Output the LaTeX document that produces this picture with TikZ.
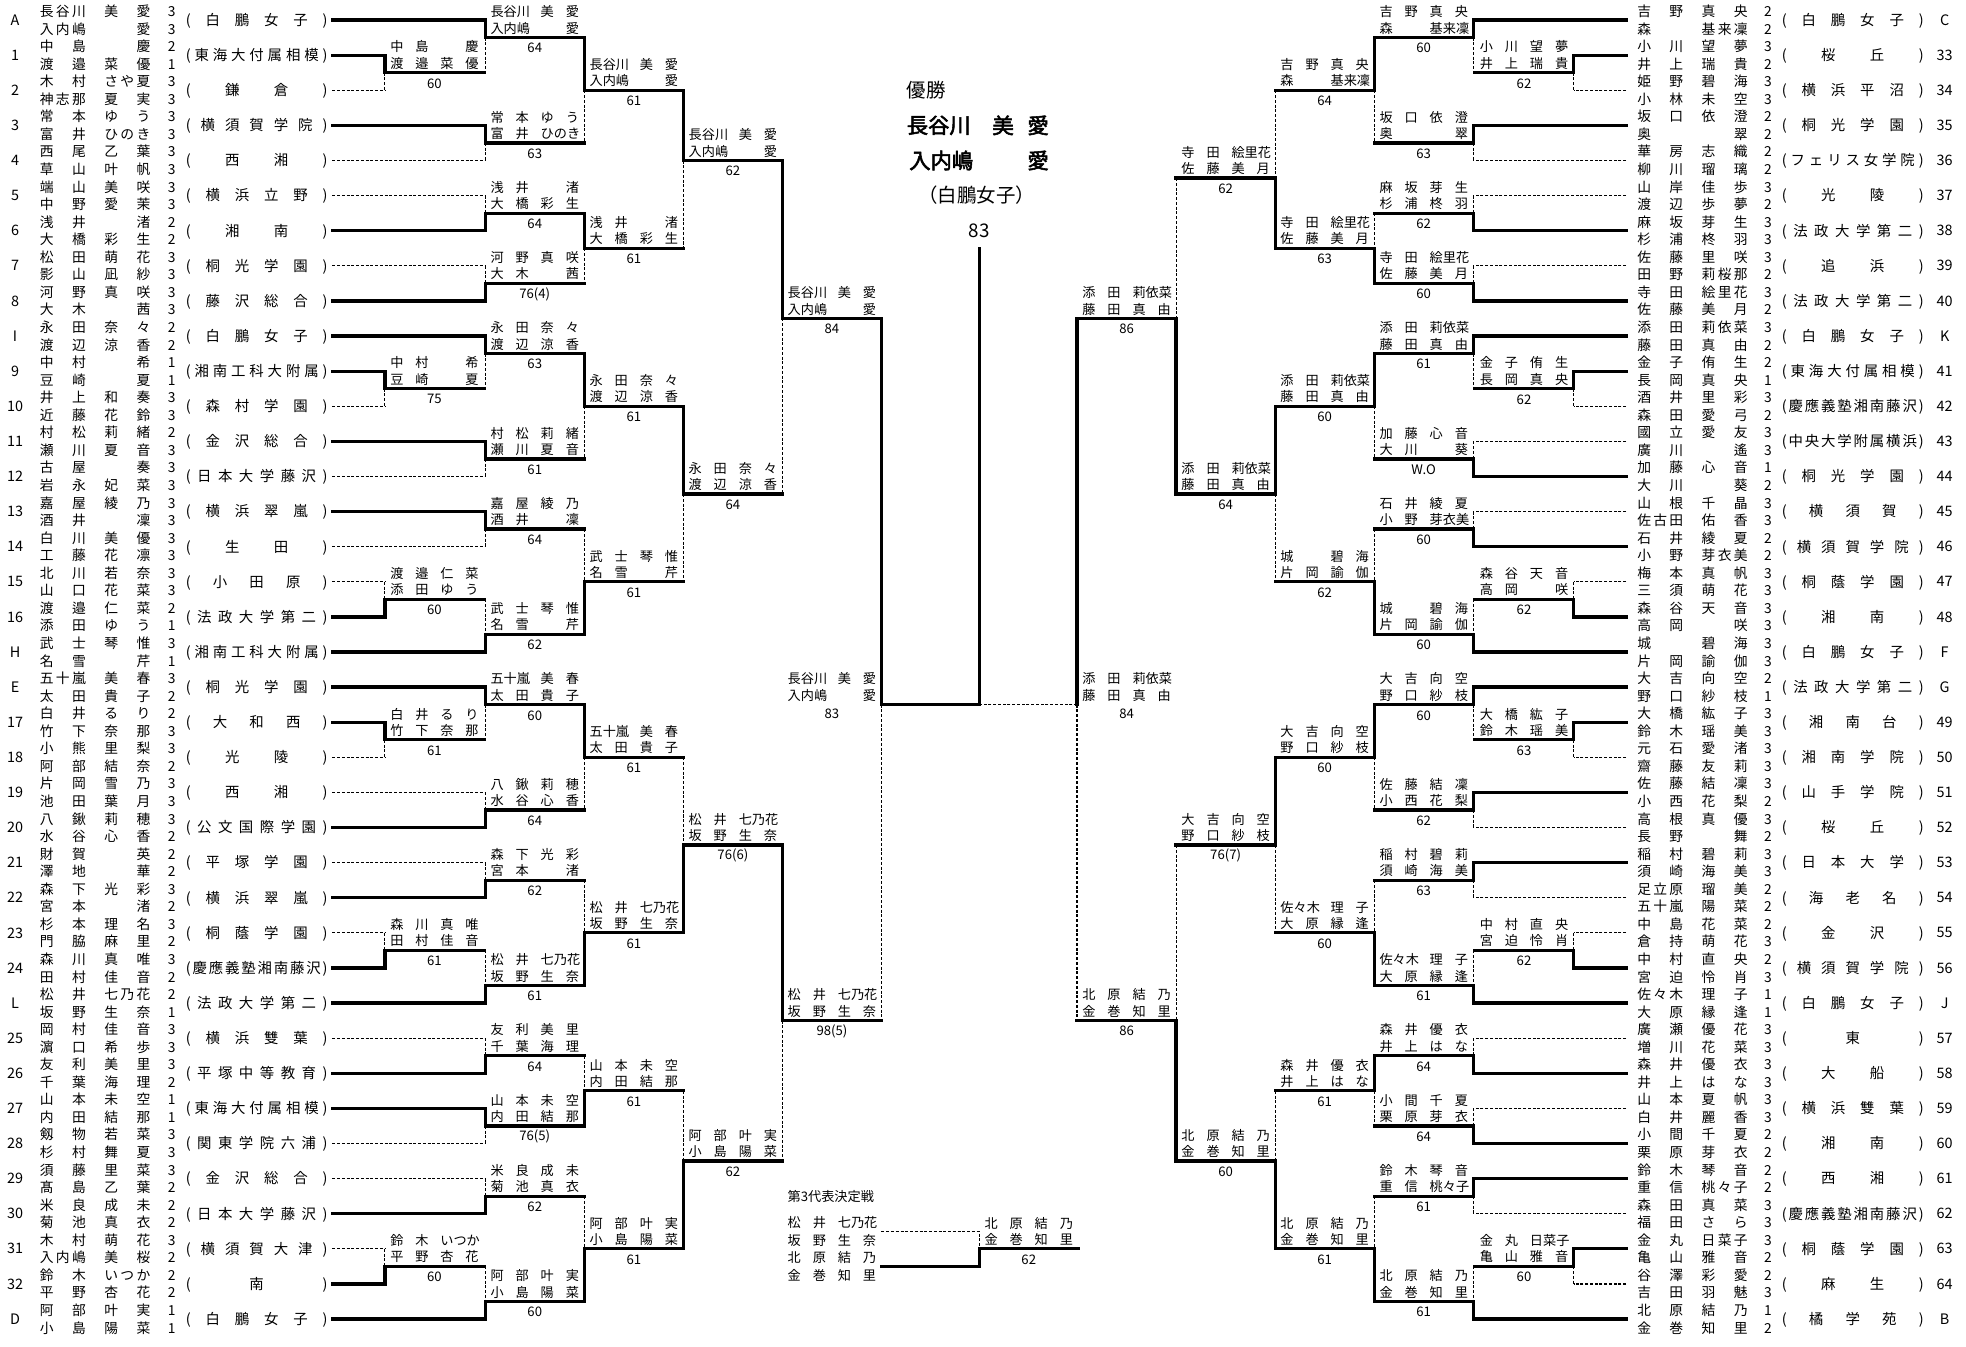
\documentclass[tikz,border=0pt]{standalone}
\usepackage{fontspec}
\setmainfont{Noto Sans CJK JP}[AutoFakeBold=2.5]
\newcount\chcountx
\def\countloopx#1{\ifx\relax#1\else\advance\chcountx by 1 \expandafter\countloopx\fi}
\def\spreadfirstx#1{#1\spreadrestx}
\def\spreadrestx#1{\ifx\relax#1\else\hfill#1\expandafter\spreadrestx\fi}
\newcommand\nmx[3]{\hbox{%
  \chcountx=0 \countloopx#2\relax
  \hbox to \dimexpr#1+1em\relax{\ifnum\chcountx=1 #2\hfill\else\spreadfirstx#2\relax\fi}%
  \hskip\dimexpr#1-1em\relax
  \chcountx=0 \countloopx#3\relax
  \hbox to \dimexpr#1+1em\relax{\ifnum\chcountx=1 \hfill#3\else\spreadfirstx#3\relax\fi}}}
\newcommand\nm[2]{\nmx{20pt}{#1}{#2}}
\newcommand\nmc[2]{\nmx{25.7pt}{#1}{#2}}
\newcommand\spreadtext[2]{\hbox to #1{\spreadfirstx#2\relax}}
\newcommand\Y[1]{(16+14*(#1))}
\tikzset{
 thk/.style={line width=2.6pt, line cap=rect},
 dsh/.style={line width=0.9pt, dash pattern=on 2.4pt off 1.4pt},
 lbl/.style={inner sep=0pt, font=\fontsize{10.5}{12}\selectfont, text height=9.2pt, text depth=1.3pt},
 scr/.style={inner sep=0pt, font=\fontsize{10.5}{12}\selectfont},
 cname/.style={inner sep=0pt, font=\fontsize{11}{13}\selectfont, text height=9.7pt, text depth=1.3pt},
 sch/.style={inner sep=0pt, font=\fontsize{11.5}{13}\selectfont, text height=10pt, text depth=1.5pt},
 seedlbl/.style={inner sep=0pt, font=\fontsize{11.5}{13}\selectfont},
}
% match: dir, V, nTop, nBot, nOut, winner(t/b), score, name1, name2
\newcommand\mt[9]{%
 \if#6t
   \draw[dsh] (#2,{\Y{#5}}) -- (#2,{\Y{#4}});
   \draw[thk] (#2,{\Y{#3}}) -- (#2,{\Y{#5}});
 \else
   \draw[dsh] (#2,{\Y{#3}}) -- (#2,{\Y{#5}});
   \draw[thk] (#2,{\Y{#5}}) -- (#2,{\Y{#4}});
 \fi
 \draw[thk] (#2,{\Y{#5}}) -- ({#2+(#1)*79},{\Y{#5}});
 \node[lbl] at ({#2+(#1)*39.5},{\Y{#5}-20.5}) {#8};
 \node[lbl] at ({#2+(#1)*39.5},{\Y{#5}-7.5}) {#9};
 \node[scr] at ({#2+(#1)*39.5},{\Y{#5}+8.5}) {#7};
}
\newcommand\entL[9]{%
 \node[seedlbl] (sL#1) at (12,{\Y{2*#1}}) {#2};
 \node[cname,anchor=west] (nL#1a) at (31.6,{\Y{2*#1}-7}) {\nmc{#3}{#4}};
 \node[cname] (gL#1a) at (137,{\Y{2*#1}-7}) {#5};
 \node[cname,anchor=west] (nL#1b) at (31.6,{\Y{2*#1}+7}) {\nmc{#6}{#7}};
 \node[cname] (gL#1b) at (137,{\Y{2*#1}+7}) {#8};
 \node[sch,anchor=west] (cL#1) at (148,{\Y{2*#1}}) {\spreadtext{113pt}{(#9)}};
}
\newcommand\entR[9]{%
 \node[seedlbl] (sR#1) at (1551,{\Y{2*#1}}) {#2};
 \node[cname,anchor=west] (nR#1a) at (1305.6,{\Y{2*#1}-7}) {\nmc{#3}{#4}};
 \node[cname] (gR#1a) at (1410,{\Y{2*#1}-7}) {#5};
 \node[cname,anchor=west] (nR#1b) at (1305.6,{\Y{2*#1}+7}) {\nmc{#6}{#7}};
 \node[cname] (gR#1b) at (1410,{\Y{2*#1}+7}) {#8};
 \node[sch,anchor=west] (cR#1) at (1421,{\Y{2*#1}}) {\spreadtext{113pt}{(#9)}};
}
\newcommand\lnL[3]{\draw[#3] (265,{\Y{2*#1}}) -- (#2,{\Y{2*#1}});}
\newcommand\lnR[3]{\draw[#3] (1297,{\Y{2*#1}}) -- (#2,{\Y{2*#1}});}
\begin{document}
\begin{tikzpicture}[x=1pt,y=-1pt]
\fill[white] (0,0) rectangle (1568,1073.6);
\useasboundingbox (0,0) rectangle (1568,1073.6);
% ---------- entry lines ----------
\lnL{0}{387}{thk}\lnL{1}{307}{thk}\lnL{2}{307}{dsh}\lnL{3}{387}{thk}\lnL{4}{387}{dsh}
\lnL{5}{387}{dsh}\lnL{6}{387}{thk}\lnL{7}{387}{dsh}\lnL{8}{387}{thk}\lnL{9}{387}{thk}
\lnL{10}{307}{thk}\lnL{11}{307}{dsh}\lnL{12}{387}{thk}\lnL{13}{387}{dsh}\lnL{14}{387}{thk}
\lnL{15}{387}{dsh}\lnL{16}{307}{dsh}\lnL{17}{307}{thk}\lnL{18}{387}{thk}\lnL{19}{387}{thk}
\lnL{20}{307}{thk}\lnL{21}{307}{dsh}\lnL{22}{387}{dsh}\lnL{23}{387}{thk}\lnL{24}{387}{dsh}
\lnL{25}{387}{thk}\lnL{26}{307}{dsh}\lnL{27}{307}{thk}\lnL{28}{387}{thk}\lnL{29}{387}{dsh}
\lnL{30}{387}{thk}\lnL{31}{387}{thk}\lnL{32}{387}{dsh}\lnL{33}{387}{dsh}\lnL{34}{387}{thk}
\lnL{35}{307}{dsh}\lnL{36}{307}{thk}\lnL{37}{387}{thk}
\lnR{0}{1175}{thk}\lnR{1}{1255}{thk}\lnR{2}{1255}{dsh}\lnR{3}{1175}{thk}\lnR{4}{1175}{dsh}
\lnR{5}{1175}{dsh}\lnR{6}{1175}{thk}\lnR{7}{1175}{dsh}\lnR{8}{1175}{thk}\lnR{9}{1175}{thk}
\lnR{10}{1255}{thk}\lnR{11}{1255}{dsh}\lnR{12}{1175}{dsh}\lnR{13}{1175}{thk}\lnR{14}{1175}{dsh}
\lnR{15}{1175}{thk}\lnR{16}{1255}{dsh}\lnR{17}{1255}{thk}\lnR{18}{1175}{thk}\lnR{19}{1175}{thk}
\lnR{20}{1255}{thk}\lnR{21}{1255}{dsh}\lnR{22}{1175}{thk}\lnR{23}{1175}{dsh}\lnR{24}{1175}{thk}
\lnR{25}{1175}{dsh}\lnR{26}{1255}{dsh}\lnR{27}{1255}{thk}\lnR{28}{1175}{thk}\lnR{29}{1175}{dsh}
\lnR{30}{1175}{thk}\lnR{31}{1175}{dsh}\lnR{32}{1175}{thk}\lnR{33}{1175}{thk}\lnR{34}{1175}{dsh}
\lnR{35}{1255}{thk}\lnR{36}{1255}{dsh}\lnR{37}{1175}{thk}
% ---------- left entries ----------
\entL{0}{A}{長谷川}{美愛}{3}{入内嶋}{愛}{3}{白鵬女子}
\entL{1}{1}{中島}{慶}{2}{渡邉}{菜優}{1}{東海大付属相模}
\entL{2}{2}{木村}{さや夏}{3}{神志那}{夏実}{3}{鎌倉}
\entL{3}{3}{常本}{ゆう}{3}{富井}{ひのき}{3}{横須賀学院}
\entL{4}{4}{西尾}{乙葉}{3}{草山}{叶帆}{3}{西湘}
\entL{5}{5}{端山}{美咲}{3}{中野}{愛茉}{3}{横浜立野}
\entL{6}{6}{浅井}{渚}{2}{大橋}{彩生}{2}{湘南}
\entL{7}{7}{松田}{萌花}{3}{影山}{凪紗}{3}{桐光学園}
\entL{8}{8}{河野}{真咲}{3}{大木}{茜}{3}{藤沢総合}
\entL{9}{I}{永田}{奈々}{2}{渡辺}{涼香}{2}{白鵬女子}
\entL{10}{9}{中村}{希}{1}{豆崎}{夏}{1}{湘南工科大附属}
\entL{11}{10}{井上}{和奏}{3}{近藤}{花鈴}{3}{森村学園}
\entL{12}{11}{村松}{莉緒}{2}{瀬川}{夏音}{3}{金沢総合}
\entL{13}{12}{古屋}{奏}{3}{岩永}{妃菜}{3}{日本大学藤沢}
\entL{14}{13}{嘉屋}{綾乃}{3}{酒井}{凜}{3}{横浜翠嵐}
\entL{15}{14}{白川}{美優}{3}{工藤}{花凛}{3}{生田}
\entL{16}{15}{北川}{若奈}{3}{山口}{花菜}{3}{小田原}
\entL{17}{16}{渡邉}{仁菜}{2}{添田}{ゆう}{1}{法政大学第二}
\entL{18}{H}{武士}{琴惟}{3}{名雪}{芹}{1}{湘南工科大附属}
\entL{19}{E}{五十嵐}{美春}{3}{太田}{貴子}{2}{桐光学園}
\entL{20}{17}{白井}{るり}{2}{竹下}{奈那}{3}{大和西}
\entL{21}{18}{小熊}{里梨}{3}{阿部}{結奈}{2}{光陵}
\entL{22}{19}{片岡}{雪乃}{3}{池田}{葉月}{3}{西湘}
\entL{23}{20}{八鍬}{莉穂}{3}{水谷}{心香}{2}{公文国際学園}
\entL{24}{21}{財賀}{英}{2}{澤地}{華}{2}{平塚学園}
\entL{25}{22}{森下}{光彩}{3}{宮本}{渚}{2}{横浜翠嵐}
\entL{26}{23}{杉本}{理名}{3}{門脇}{麻里}{2}{桐蔭学園}
\entL{27}{24}{森川}{真唯}{3}{田村}{佳音}{2}{慶應義塾湘南藤沢}
\entL{28}{L}{松井}{七乃花}{2}{坂野}{生奈}{1}{法政大学第二}
\entL{29}{25}{岡村}{佳音}{3}{濵口}{希歩}{3}{横浜雙葉}
\entL{30}{26}{友利}{美里}{3}{千葉}{海理}{2}{平塚中等教育}
\entL{31}{27}{山本}{未空}{1}{内田}{結那}{1}{東海大付属相模}
\entL{32}{28}{剱物}{若菜}{3}{杉村}{舞夏}{3}{関東学院六浦}
\entL{33}{29}{須藤}{里菜}{3}{髙島}{乙葉}{2}{金沢総合}
\entL{34}{30}{米良}{成未}{2}{菊池}{真衣}{2}{日本大学藤沢}
\entL{35}{31}{木村}{萌花}{3}{入内嶋}{美桜}{2}{横須賀大津}
\entL{36}{32}{鈴木}{いつか}{2}{平野}{杏花}{2}{南}
\entL{37}{D}{阿部}{叶実}{1}{小島}{陽菜}{1}{白鵬女子}
% ---------- right entries ----------
\entR{0}{C}{吉野}{真央}{2}{森}{基来凜}{2}{白鵬女子}
\entR{1}{33}{小川}{望夢}{3}{井上}{瑞貴}{2}{桜丘}
\entR{2}{34}{姫野}{碧海}{3}{小林}{未空}{3}{横浜平沼}
\entR{3}{35}{坂口}{依澄}{2}{奥}{翠}{2}{桐光学園}
\entR{4}{36}{華房}{志織}{2}{柳川}{瑠璃}{2}{フェリス女学院}
\entR{5}{37}{山岸}{佳歩}{3}{渡辺}{歩夢}{2}{光陵}
\entR{6}{38}{麻坂}{芽生}{3}{杉浦}{柊羽}{3}{法政大学第二}
\entR{7}{39}{佐藤}{里咲}{3}{田野}{莉桜那}{2}{追浜}
\entR{8}{40}{寺田}{絵里花}{3}{佐藤}{美月}{2}{法政大学第二}
\entR{9}{K}{添田}{莉依菜}{3}{藤田}{真由}{2}{白鵬女子}
\entR{10}{41}{金子}{侑生}{2}{長岡}{真央}{1}{東海大付属相模}
\entR{11}{42}{酒井}{里彩}{3}{森田}{愛弓}{2}{慶應義塾湘南藤沢}
\entR{12}{43}{國立}{愛友}{3}{廣川}{遙}{3}{中央大学附属横浜}
\entR{13}{44}{加藤}{心音}{1}{大川}{葵}{2}{桐光学園}
\entR{14}{45}{山根}{千晶}{3}{佐古田}{佑香}{3}{横須賀}
\entR{15}{46}{石井}{綾夏}{2}{小野}{芽衣美}{2}{横須賀学院}
\entR{16}{47}{梅本}{真帆}{3}{三須}{萌花}{3}{桐蔭学園}
\entR{17}{48}{森谷}{天音}{3}{高岡}{咲}{3}{湘南}
\entR{18}{F}{城}{碧海}{3}{片岡}{諭伽}{3}{白鵬女子}
\entR{19}{G}{大吉}{向空}{2}{野口}{紗枝}{1}{法政大学第二}
\entR{20}{49}{大橋}{紘子}{3}{鈴木}{瑶美}{3}{湘南台}
\entR{21}{50}{元石}{愛渚}{3}{齋藤}{友莉}{3}{湘南学院}
\entR{22}{51}{佐藤}{結凜}{3}{小西}{花梨}{2}{山手学院}
\entR{23}{52}{高根}{真優}{3}{長野}{舞}{2}{桜丘}
\entR{24}{53}{稲村}{碧莉}{3}{須崎}{海美}{3}{日本大学}
\entR{25}{54}{足立原}{瑠美}{2}{五十嵐}{陽菜}{2}{海老名}
\entR{26}{55}{中島}{花菜}{2}{倉持}{萌花}{3}{金沢}
\entR{27}{56}{中村}{直央}{2}{宮迫}{怜肖}{3}{横須賀学院}
\entR{28}{J}{佐々木}{理子}{1}{大原}{縁逢}{1}{白鵬女子}
\entR{29}{57}{廣瀬}{優花}{3}{増川}{花菜}{3}{東}
\entR{30}{58}{森井}{優衣}{3}{井上}{はな}{3}{大船}
\entR{31}{59}{山本}{夏帆}{3}{白井}{麗香}{3}{横浜雙葉}
\entR{32}{60}{小間}{千夏}{2}{栗原}{芽衣}{2}{湘南}
\entR{33}{61}{鈴木}{琴音}{2}{重信}{桃々子}{2}{西湘}
\entR{34}{62}{森田}{真菜}{3}{福田}{さら}{3}{慶應義塾湘南藤沢}
\entR{35}{63}{金丸}{日菜子}{3}{亀山}{雅音}{2}{桐蔭学園}
\entR{36}{64}{谷澤}{彩愛}{2}{吉田}{羽魅}{3}{麻生}
\entR{37}{B}{北原}{結乃}{1}{金巻}{知里}{2}{橘学苑}
% ---------- left matches ----------
\mt{1}{307}{2}{4}{3}{t}{60}{\nm{中島}{慶}}{\nm{渡邉}{菜優}}
\mt{1}{307}{20}{22}{21}{t}{75}{\nm{中村}{希}}{\nm{豆崎}{夏}}
\mt{1}{307}{32}{34}{33}{b}{60}{\nm{渡邉}{仁菜}}{\nm{添田}{ゆう}}
\mt{1}{307}{40}{42}{41}{t}{61}{\nm{白井}{るり}}{\nm{竹下}{奈那}}
\mt{1}{307}{52}{54}{53}{b}{61}{\nm{森川}{真唯}}{\nm{田村}{佳音}}
\mt{1}{307}{70}{72}{71}{b}{60}{\nm{鈴木}{いつか}}{\nm{平野}{杏花}}
\mt{1}{387}{0}{3}{1}{t}{64}{\nm{長谷川}{美愛}}{\nm{入内嶋}{愛}}
\mt{1}{387}{6}{8}{7}{t}{63}{\nm{常本}{ゆう}}{\nm{富井}{ひのき}}
\mt{1}{387}{10}{12}{11}{b}{64}{\nm{浅井}{渚}}{\nm{大橋}{彩生}}
\mt{1}{387}{14}{16}{15}{b}{76(4)}{\nm{河野}{真咲}}{\nm{大木}{茜}}
\mt{1}{387}{18}{21}{19}{t}{63}{\nm{永田}{奈々}}{\nm{渡辺}{涼香}}
\mt{1}{387}{24}{26}{25}{t}{61}{\nm{村松}{莉緒}}{\nm{瀬川}{夏音}}
\mt{1}{387}{28}{30}{29}{t}{64}{\nm{嘉屋}{綾乃}}{\nm{酒井}{凜}}
\mt{1}{387}{33}{36}{35}{b}{62}{\nm{武士}{琴惟}}{\nm{名雪}{芹}}
\mt{1}{387}{38}{41}{39}{t}{60}{\nm{五十嵐}{美春}}{\nm{太田}{貴子}}
\mt{1}{387}{44}{46}{45}{b}{64}{\nm{八鍬}{莉穂}}{\nm{水谷}{心香}}
\mt{1}{387}{48}{50}{49}{b}{62}{\nm{森下}{光彩}}{\nm{宮本}{渚}}
\mt{1}{387}{53}{56}{55}{b}{61}{\nm{松井}{七乃花}}{\nm{坂野}{生奈}}
\mt{1}{387}{58}{60}{59}{b}{64}{\nm{友利}{美里}}{\nm{千葉}{海理}}
\mt{1}{387}{62}{64}{63}{t}{76(5)}{\nm{山本}{未空}}{\nm{内田}{結那}}
\mt{1}{387}{66}{68}{67}{b}{62}{\nm{米良}{成未}}{\nm{菊池}{真衣}}
\mt{1}{387}{71}{74}{73}{b}{60}{\nm{阿部}{叶実}}{\nm{小島}{陽菜}}
\mt{1}{466}{1}{7}{4}{t}{61}{\nm{長谷川}{美愛}}{\nm{入内嶋}{愛}}
\mt{1}{466}{11}{15}{13}{t}{61}{\nm{浅井}{渚}}{\nm{大橋}{彩生}}
\mt{1}{466}{19}{25}{22}{t}{61}{\nm{永田}{奈々}}{\nm{渡辺}{涼香}}
\mt{1}{466}{29}{35}{32}{b}{61}{\nm{武士}{琴惟}}{\nm{名雪}{芹}}
\mt{1}{466}{39}{45}{42}{t}{61}{\nm{五十嵐}{美春}}{\nm{太田}{貴子}}
\mt{1}{466}{49}{55}{52}{b}{61}{\nm{松井}{七乃花}}{\nm{坂野}{生奈}}
\mt{1}{466}{59}{63}{61}{b}{61}{\nm{山本}{未空}}{\nm{内田}{結那}}
\mt{1}{466}{67}{73}{70}{b}{61}{\nm{阿部}{叶実}}{\nm{小島}{陽菜}}
\mt{1}{545}{4}{13}{8}{t}{62}{\nm{長谷川}{美愛}}{\nm{入内嶋}{愛}}
\mt{1}{545}{22}{32}{27}{t}{64}{\nm{永田}{奈々}}{\nm{渡辺}{涼香}}
\mt{1}{545}{42}{52}{47}{b}{76(6)}{\nm{松井}{七乃花}}{\nm{坂野}{生奈}}
\mt{1}{545}{61}{70}{65}{b}{62}{\nm{阿部}{叶実}}{\nm{小島}{陽菜}}
\mt{1}{624}{8}{27}{17}{t}{84}{\nm{長谷川}{美愛}}{\nm{入内嶋}{愛}}
\mt{1}{624}{47}{65}{57}{t}{98(5)}{\nm{松井}{七乃花}}{\nm{坂野}{生奈}}
% ---------- right matches ----------
\mt{-1}{1255}{2}{4}{3}{t}{62}{\nm{小川}{望夢}}{\nm{井上}{瑞貴}}
\mt{-1}{1255}{20}{22}{21}{t}{62}{\nm{金子}{侑生}}{\nm{長岡}{真央}}
\mt{-1}{1255}{32}{34}{33}{b}{62}{\nm{森谷}{天音}}{\nm{高岡}{咲}}
\mt{-1}{1255}{40}{42}{41}{t}{63}{\nm{大橋}{紘子}}{\nm{鈴木}{瑶美}}
\mt{-1}{1255}{52}{54}{53}{b}{62}{\nm{中村}{直央}}{\nm{宮迫}{怜肖}}
\mt{-1}{1255}{70}{72}{71}{t}{60}{\nm{金丸}{日菜子}}{\nm{亀山}{雅音}}
\mt{-1}{1175}{0}{3}{1}{t}{60}{\nm{吉野}{真央}}{\nm{森}{基来凜}}
\mt{-1}{1175}{6}{8}{7}{t}{63}{\nm{坂口}{依澄}}{\nm{奥}{翠}}
\mt{-1}{1175}{10}{12}{11}{b}{62}{\nm{麻坂}{芽生}}{\nm{杉浦}{柊羽}}
\mt{-1}{1175}{14}{16}{15}{b}{60}{\nm{寺田}{絵里花}}{\nm{佐藤}{美月}}
\mt{-1}{1175}{18}{21}{19}{t}{61}{\nm{添田}{莉依菜}}{\nm{藤田}{真由}}
\mt{-1}{1175}{24}{26}{25}{b}{W.O}{\nm{加藤}{心音}}{\nm{大川}{葵}}
\mt{-1}{1175}{28}{30}{29}{b}{60}{\nm{石井}{綾夏}}{\nm{小野}{芽衣美}}
\mt{-1}{1175}{33}{36}{35}{b}{60}{\nm{城}{碧海}}{\nm{片岡}{諭伽}}
\mt{-1}{1175}{38}{41}{39}{t}{60}{\nm{大吉}{向空}}{\nm{野口}{紗枝}}
\mt{-1}{1175}{44}{46}{45}{t}{62}{\nm{佐藤}{結凜}}{\nm{小西}{花梨}}
\mt{-1}{1175}{48}{50}{49}{t}{63}{\nm{稲村}{碧莉}}{\nm{須崎}{海美}}
\mt{-1}{1175}{53}{56}{55}{b}{61}{\nm{佐々木}{理子}}{\nm{大原}{縁逢}}
\mt{-1}{1175}{58}{60}{59}{b}{64}{\nm{森井}{優衣}}{\nm{井上}{はな}}
\mt{-1}{1175}{62}{64}{63}{b}{64}{\nm{小間}{千夏}}{\nm{栗原}{芽衣}}
\mt{-1}{1175}{66}{68}{67}{t}{61}{\nm{鈴木}{琴音}}{\nm{重信}{桃々子}}
\mt{-1}{1175}{71}{74}{73}{b}{61}{\nm{北原}{結乃}}{\nm{金巻}{知里}}
\mt{-1}{1096}{1}{7}{4}{t}{64}{\nm{吉野}{真央}}{\nm{森}{基来凜}}
\mt{-1}{1096}{11}{15}{13}{b}{63}{\nm{寺田}{絵里花}}{\nm{佐藤}{美月}}
\mt{-1}{1096}{19}{25}{22}{t}{60}{\nm{添田}{莉依菜}}{\nm{藤田}{真由}}
\mt{-1}{1096}{29}{35}{32}{b}{62}{\nm{城}{碧海}}{\nm{片岡}{諭伽}}
\mt{-1}{1096}{39}{45}{42}{t}{60}{\nm{大吉}{向空}}{\nm{野口}{紗枝}}
\mt{-1}{1096}{49}{55}{52}{b}{60}{\nm{佐々木}{理子}}{\nm{大原}{縁逢}}
\mt{-1}{1096}{59}{63}{61}{t}{61}{\nm{森井}{優衣}}{\nm{井上}{はな}}
\mt{-1}{1096}{67}{73}{70}{b}{61}{\nm{北原}{結乃}}{\nm{金巻}{知里}}
\mt{-1}{1017}{4}{13}{9}{b}{62}{\nm{寺田}{絵里花}}{\nm{佐藤}{美月}}
\mt{-1}{1017}{22}{32}{27}{t}{64}{\nm{添田}{莉依菜}}{\nm{藤田}{真由}}
\mt{-1}{1017}{42}{52}{47}{t}{76(7)}{\nm{大吉}{向空}}{\nm{野口}{紗枝}}
\mt{-1}{1017}{61}{70}{65}{b}{60}{\nm{北原}{結乃}}{\nm{金巻}{知里}}
\mt{-1}{938}{9}{27}{17}{b}{86}{\nm{添田}{莉依菜}}{\nm{藤田}{真由}}
\mt{-1}{938}{47}{65}{57}{b}{86}{\nm{北原}{結乃}}{\nm{金巻}{知里}}
% ---------- semifinals and final ----------
\draw[dsh] (703,{\Y{39}}) -- (703,{\Y{57}});
\draw[thk] (703,{\Y{17}}) -- (703,{\Y{39}}) -- (781,{\Y{39}});
\draw[dsh] (859,{\Y{39}}) -- (859,{\Y{57}});
\draw[dsh] (859,{\Y{39}}) -- (781,{\Y{39}});
\draw[thk] (859,{\Y{17}}) -- (859,{\Y{39}});
\draw[thk] (781,{\Y{13}}) -- (781,{\Y{39}});
\node[lbl] (sfL1) at (663.5,{\Y{39}-20.5}) {\nm{長谷川}{美愛}};
\node[lbl] (sfL2) at (663.5,{\Y{39}-7.5}) {\nm{入内嶋}{愛}};
\node[scr] (sfL3) at (663.5,{\Y{39}+7}) {83};
\node[lbl] (sfR1) at (898.5,{\Y{39}-20.5}) {\nm{添田}{莉依菜}};
\node[lbl] (sfR2) at (898.5,{\Y{39}-7.5}) {\nm{藤田}{真由}};
\node[scr] (sfR3) at (898.5,{\Y{39}+7}) {84};
% champion block
\node[anchor=west, inner sep=0pt, font=\fontsize{15.5}{18}\selectfont] (yu) at (723,{\Y{4}}) {優勝};
\node[anchor=west, inner sep=0pt, font=\fontsize{17}{20}\selectfont\bfseries] (ch1) at (723,{\Y{6}}) {長谷川};
\node[inner sep=0pt, font=\fontsize{17}{20}\selectfont\bfseries] (ch2) at (800,{\Y{6}}) {美};
\node[inner sep=0pt, font=\fontsize{17}{20}\selectfont\bfseries] (ch3) at (828,{\Y{6}}) {愛};
\node[anchor=west, inner sep=0pt, font=\fontsize{17}{20}\selectfont\bfseries] (ch4) at (725,{\Y{8}}) {入内嶋};
\node[inner sep=0pt, font=\fontsize{17}{20}\selectfont\bfseries] (ch5) at (828,{\Y{8}}) {愛};
\node[inner sep=0pt, font=\fontsize{15.5}{18}\selectfont] (ch6) at (779,{\Y{10}}) {（白鵬女子）};
\node[inner sep=0pt, font=\fontsize{15}{18}\selectfont] (ch7) at (781,{\Y{12}}) {83};
% third representative match
\node[anchor=west, inner sep=0pt, font=\fontsize{10.5}{12}\selectfont] (t3) at (628,{\Y{67}}) {第3代表決定戦};
\node[lbl] (t3a) at (663.5,{\Y{69}-7}) {\nm{松井}{七乃花}};
\node[lbl] (t3b) at (663.5,{\Y{69}+7}) {\nm{坂野}{生奈}};
\node[lbl] (t3c) at (663.5,{\Y{71}-7}) {\nm{北原}{結乃}};
\node[lbl] (t3d) at (663.5,{\Y{71}+7}) {\nm{金巻}{知里}};
\draw[dsh] (703,{\Y{69}}) -- (781,{\Y{69}}) -- (781,{\Y{70}});
\draw[thk] (703,{\Y{71}}) -- (781,{\Y{71}}) -- (781,{\Y{70}}) -- (860,{\Y{70}});
\node[lbl] (t3e) at (820.5,{\Y{70}-20.5}) {\nm{北原}{結乃}};
\node[lbl] (t3f) at (820.5,{\Y{70}-7.5}) {\nm{金巻}{知里}};
\node[scr] (t3g) at (820.5,{\Y{70}+8.5}) {62};
\end{tikzpicture}
\end{document}
